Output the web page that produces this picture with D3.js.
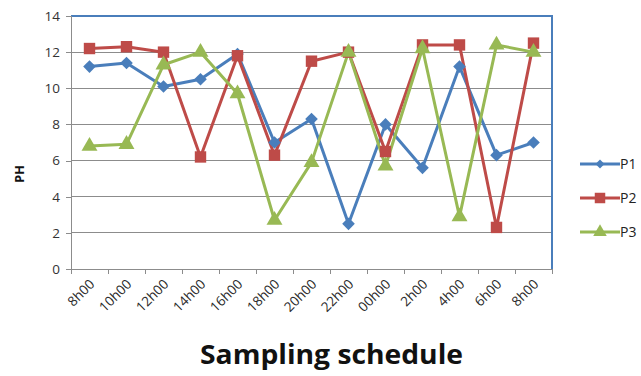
<!DOCTYPE html>
<html>
<head>
<meta charset="utf-8">
<script src="https://cdn.jsdelivr.net/npm/d3@7"></script>
<style>
html,body{margin:0;padding:0;background:#fff;}
svg{display:block;}
</style>
</head>
<body>
<svg id="chart" width="641" height="376"></svg>
<script>
const categories = ["8h00","10h00","12h00","14h00","16h00","18h00","20h00","22h00","00h00","2h00","4h00","6h00","8h00"];
const p1 = [11.2, 11.4, 10.1, 10.5, 11.9, 7.0, 8.3, 2.5, 8.0, 5.6, 11.2, 6.3, 7.0];
const p2 = [12.2, 12.3, 12.0, 6.2, 11.8, 6.3, 11.5, 12.0, 6.5, 12.4, 12.4, 2.3, 12.5];
const p3 = [6.8, 6.9, 11.3, 12.0, 9.7, 2.7, 5.9, 12.0, 5.7, 12.2, 2.9, 12.4, 12.0];
const yTicks = [0, 2, 4, 6, 8, 10, 12, 14];
const seriesNames = ["P1", "P2", "P3"];
const seriesColors = ["#4A7EBB", "#BE4B48", "#98B954"];
const seriesValues = [p1, p2, p3];
const seriesMarkers = ["diamond", "square", "triangle"];

(function () {
const svg = d3.select("#chart");
const pLeft = 71, pRight = 552, pTop = 16, pBottom = 269;
const font = "'Open Sans', 'Liberation Sans', sans-serif";

const idx = categories.map((c, i) => i);
const x = d3.scaleBand().domain(idx).range([pLeft, pRight]).padding(0);
const y = d3.scaleLinear().domain([0, 14]).range([pBottom, pTop]);

// gridlines
svg.append("g").selectAll("line").data(yTicks.filter(t => t > 0 && t < 14)).join("line")
  .attr("x1", pLeft).attr("x2", pRight)
  .attr("y1", d => y(d)).attr("y2", d => y(d))
  .attr("stroke", "#8c8c8c").attr("stroke-width", 1).attr("shape-rendering", "crispEdges");

// plot border top/right (blue)
svg.append("line").attr("x1", pLeft).attr("x2", pRight + 0.5).attr("y1", y(14)).attr("y2", y(14))
  .attr("stroke", "#4A7EBB").attr("stroke-width", 1.2).attr("shape-rendering", "crispEdges");
svg.append("line").attr("x1", pRight).attr("x2", pRight).attr("y1", y(14)).attr("y2", pBottom)
  .attr("stroke", "#4A7EBB").attr("stroke-width", 1.2).attr("shape-rendering", "crispEdges");

// y axis
const yAxis = d3.axisLeft(y).tickValues(yTicks).tickSize(5).tickPadding(6).tickFormat(d3.format("d"));
const gy = svg.append("g").attr("transform", `translate(${pLeft},0)`).call(yAxis);
gy.select(".domain").attr("stroke", "#8c8c8c");
gy.selectAll(".tick line").attr("stroke", "#8c8c8c");
gy.selectAll(".tick text").attr("font-family", font).attr("font-size", 13.5).attr("fill", "#333");
gy.attr("shape-rendering", "crispEdges");

// x axis: ticks at band boundaries
const xAxisLine = svg.append("g").attr("shape-rendering", "crispEdges");
xAxisLine.append("line").attr("x1", pLeft).attr("x2", pRight).attr("y1", pBottom).attr("y2", pBottom).attr("stroke", "#8c8c8c");
const boundaries = idx.map(i => x(i)).concat([x(idx[idx.length - 1]) + x.bandwidth()]);
xAxisLine.selectAll("line.t").data(boundaries).join("line").attr("class", "t")
  .attr("x1", d => d).attr("x2", d => d).attr("y1", pBottom).attr("y2", pBottom + 5).attr("stroke", "#8c8c8c");

svg.append("g").selectAll("text").data(categories).join("text")
  .attr("transform", (d, i) => `translate(${x(i) + x.bandwidth() / 2 + 6},${pBottom + 16}) rotate(-45)`)
  .attr("text-anchor", "end")
  .attr("font-family", font).attr("font-size", 13.5).attr("fill", "#2a2a2a")
  .text(d => d);

// series
const cx = i => x(i) + x.bandwidth() / 2;
const line = d3.line().x((d, i) => cx(i)).y(d => y(d));
const squareDiamond = {
  draw(ctx, size) {
    const r = Math.sqrt(size / 2);
    ctx.moveTo(0, -r); ctx.lineTo(r, 0); ctx.lineTo(0, r); ctx.lineTo(-r, 0); ctx.closePath();
  }
};
const symbolTypes = { diamond: squareDiamond, square: d3.symbolSquare, triangle: d3.symbolTriangle };
const symbolSizes = { diamond: 80, square: 130, triangle: 110 };
const legendSizes = { diamond: 40, square: 110, triangle: 80 };

seriesValues.forEach((vals, s) => {
  svg.append("path").datum(vals).attr("d", line)
    .attr("fill", "none").attr("stroke", seriesColors[s]).attr("stroke-width", 3).attr("stroke-linejoin", "round");
});
seriesValues.forEach((vals, s) => {
  const sym = d3.symbol().type(symbolTypes[seriesMarkers[s]]).size(symbolSizes[seriesMarkers[s]]);
  svg.append("g").selectAll("path").data(vals).join("path")
    .attr("transform", (d, i) => `translate(${cx(i)},${y(d)})`)
    .attr("d", sym).attr("fill", seriesColors[s]);
});

// legend
const legY = [164, 198, 232];
seriesNames.forEach((n, s) => {
  const g = svg.append("g");
  g.append("line").attr("x1", 580).attr("x2", 620).attr("y1", legY[s]).attr("y2", legY[s])
    .attr("stroke", seriesColors[s]).attr("stroke-width", 3);
  g.append("path").attr("transform", `translate(600,${legY[s]})`)
    .attr("d", d3.symbol().type(symbolTypes[seriesMarkers[s]]).size(legendSizes[seriesMarkers[s]])())
    .attr("fill", seriesColors[s]);
  g.append("text").attr("x", 620).attr("y", legY[s] + 5)
    .attr("font-family", font).attr("font-size", 14).attr("fill", "#222").text(n);
});

// y title
svg.append("text").attr("transform", `translate(24,174) rotate(-90)`)
  .attr("text-anchor", "middle").attr("font-family", font).attr("font-weight", "bold")
  .attr("font-size", 13).attr("fill", "#111").text("PH");

// x title
svg.append("text").attr("x", 200).attr("y", 364)
  .attr("textLength", 263).attr("lengthAdjust", "spacingAndGlyphs")
  .attr("font-family", font).attr("font-weight", "bold")
  .attr("font-size", 26).attr("fill", "#111").text("Sampling schedule");
})();
</script>
</body>
</html>
